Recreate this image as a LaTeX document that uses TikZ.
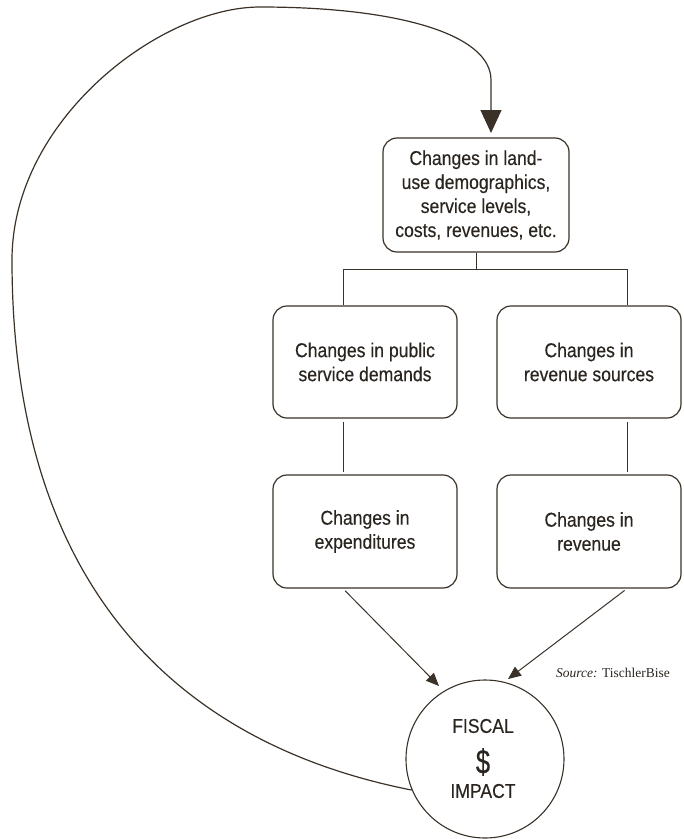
\documentclass[tikz,border=0pt]{standalone}
\usepackage{fontspec}
\setmainfont{Liberation Sans}
\newfontfamily\condfont[FakeStretch=0.88,FakeBold=0.35]{Liberation Sans}
\newfontfamily\dollarfont[FakeStretch=0.75,FakeBold=0.4]{Liberation Sans}
\newfontfamily\notefont{Liberation Serif}
\usetikzlibrary{arrows.meta,calc}
\definecolor{ink}{HTML}{2B2520}
\definecolor{rule}{HTML}{3A3128}

\begin{document}
\begin{tikzpicture}[x=1pt,y=-1pt,
  box/.style={draw=rule, line width=1.2pt, rounded corners=14pt,
    minimum width=184pt, minimum height=112pt, inner sep=0pt,
    align=center, text=ink, font=\condfont\fontsize{20}{24}\selectfont},
  hub/.style={draw=rule, line width=1.1pt, circle, minimum size=158pt, inner sep=0pt},
  hubtext/.style={text=ink, inner sep=0pt, font=\condfont\fontsize{20}{24}\selectfont},
  link/.style={draw=rule, line width=1pt},
  loopline/.style={draw=rule, line width=1.2pt},
  smallhead/.style={-{Triangle[length=13pt,width=11pt]}},
  bighead/.style={-{Triangle[length=23pt,width=21pt]}}]

\useasboundingbox (0,0) rectangle (684,839);

% boxes
\node[box, minimum width=186pt, minimum height=114pt] (top) at (476,195)
  {Changes in land-\\use demographics,\\service levels,\\costs, revenues, etc.};
\node[box] (psd)  at (365,362) {Changes in public\\service demands};
\node[box] (rsrc) at (589,362) {Changes in\\revenue sources};
\node[box, minimum height=113pt] (exp) at (365,531.5) {Changes in\\expenditures};
\node[box, minimum height=113pt] (rev) at (589,531.5) {Changes in\\revenue};

% fiscal impact circle
\node[hub] (hub) at (485,759) {};
\node[hubtext] (fiscal) at (483,726) {FISCAL};
\node[hubtext, font=\dollarfont\fontsize{34}{34}\selectfont] (dollar) at (483,762) {\$};
\node[hubtext] (impact) at (483,791) {IMPACT};

% source note
\node[anchor=base east, inner sep=0pt, text=ink, font=\notefont\fontsize{13.5}{15}\selectfont]
  (source) at (670,677) {\textit{Source:} TischlerBise};

% tree connectors
\coordinate (barL) at (343,269);
\coordinate (barR) at (627,269);
\draw[link] (top.south) -- (top.south |- barL);
\draw[link] (barL) -- (barR);
\draw[link] (barL) -- (barL |- psd.north);
\draw[link] (barR) -- (barR |- rsrc.north);
\draw[link, shorten <=3pt, shorten >=2pt] (psd.south -| barL) -- (exp.north -| barL);
\draw[link, shorten <=3pt, shorten >=2pt] (rsrc.south -| barR) -- (rev.north -| barR);

% arrows into the circle
\coordinate (tipL) at (439,686);
\coordinate (tipR) at (508,679);
\draw[link, smallhead, shorten <=3pt] (exp.south -| barL) -- (tipL);
\draw[link, smallhead, shorten <=3pt] (rev.south -| barR) -- (tipR);

% feedback loop back to the top box
\coordinate (fb) at (491,133);
\draw[loopline, bighead] (hub.203)
  .. controls (260,760) and (12,660) .. (12,260)
  .. controls (12,120) and (160,7) .. (260,7)
  .. controls (400,7) and (491,35) .. (491,80)
  -- (fb);
\end{tikzpicture}
\end{document}
